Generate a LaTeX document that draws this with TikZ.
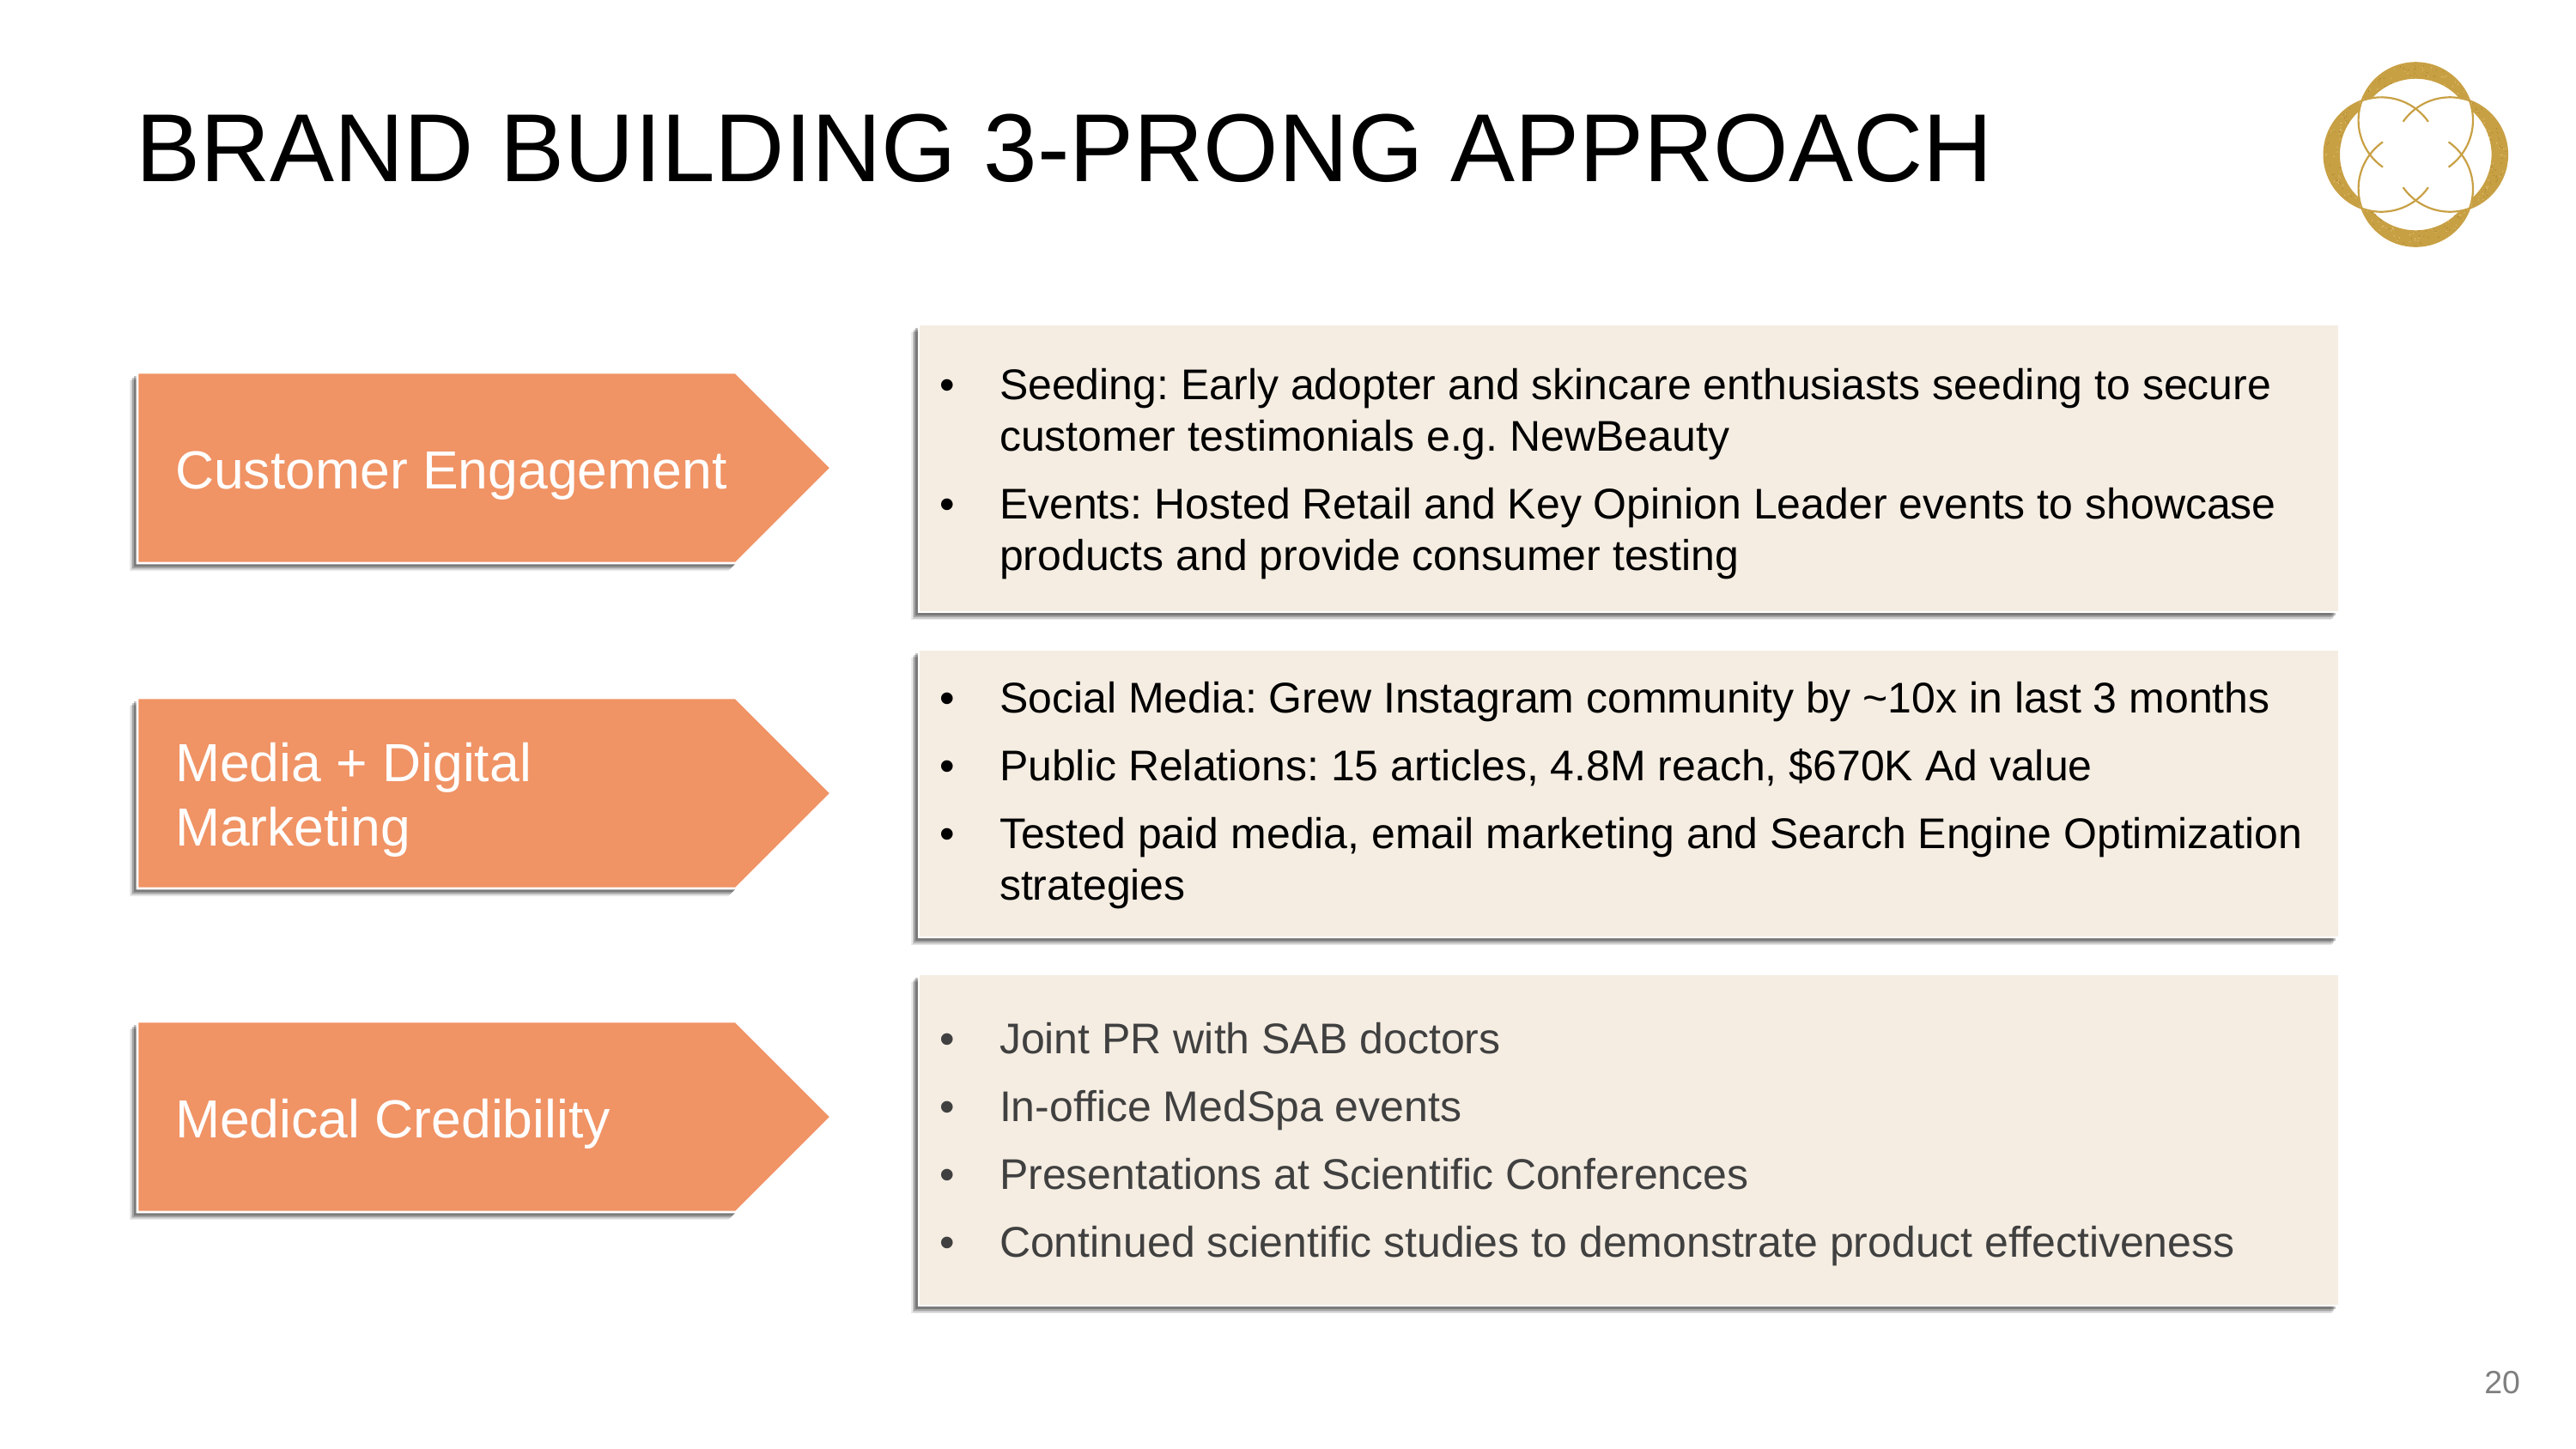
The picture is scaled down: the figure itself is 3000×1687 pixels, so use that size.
\documentclass[tikz,border=0pt]{standalone}
\usepackage{fontspec}
\setmainfont{Liberation Sans}
\frenchspacing
\definecolor{arrowfill}{HTML}{F09365}
\definecolor{panelfill}{HTML}{F5EDE2}
\definecolor{gold}{HTML}{C8A044}
\definecolor{goldlight}{HTML}{E2C67E}
\definecolor{golddark}{HTML}{A9812C}
\definecolor{darktext}{HTML}{404040}
\definecolor{pagegray}{HTML}{7F7F7F}
\newcommand{\softshadow}[1]{%
  \fill[black,opacity=.08,shift={(-9,9)}] #1;
  \fill[black,opacity=.12,shift={(-7.5,7.5)}] #1;
  \fill[black,opacity=.20,shift={(-6,6)}] #1;
  \fill[black,opacity=.25,shift={(-4,4)}] #1;
}
\newcommand{\chevshape}[1]{(160,#1) -- (857,#1) -- (968,#1+111) -- (857,#1+222) -- (160,#1+222) -- cycle}
\newcommand{\lobe}[1]{%
  \begin{scope}[rotate=#1]
    \begin{scope}
      \clip (0,40) ++(158:66.7) arc[start angle=158,end angle=22,radius=66.7]
         -- (51.4,65) arc[start angle=41.2,end angle=138.8,radius=68.3] -- cycle;
      \fill[gold] (-70,50) rectangle (70,110);
      \foreach \n in {1,...,110}{
        \pgfmathsetmacro{\sx}{rand*66}
        \pgfmathsetmacro{\sy}{80+rand*30}
        \fill[goldlight] (\sx,\sy) circle[radius=.7];
        \pgfmathsetmacro{\sx}{rand*66}
        \pgfmathsetmacro{\sy}{80+rand*30}
        \fill[golddark] (\sx,\sy) circle[radius=.7];
      }
    \end{scope}
    \draw[gold,line width=.7pt] (0,40) ++(235:66.7) arc[start angle=235,end angle=-55,radius=66.7];
  \end{scope}}
\tikzset{
  every node/.style={inner sep=0pt,outer sep=0pt},
  titletext/.style={anchor=base west,font=\fontsize{36}{43}\selectfont,text=black},
  chevtext/.style={anchor=base west,font=\fontsize{20}{24}\selectfont,text=white},
  bullettext/.style={anchor=base west,font=\fontsize{16}{19.2}\selectfont,text=black},
  bulletmark/.style={anchor=base west,font=\fontsize{16}{19.2}\selectfont,text=black},
  graytext/.style={text=darktext},
  pagenum/.style={anchor=base east,font=\fontsize{12}{14}\selectfont,text=pagegray},
}
\newcommand{\bul}[4][]{%
  \node[bulletmark,#1] at (1094,#2) {•};
  \node[bullettext,#1] (#3) at (1164,#2) {\parbox[t]{520pt}{\fontsize{16}{19.2}\selectfont\raggedright #4}};}
\begin{document}
\begin{tikzpicture}[x=.32pt,y=-.32pt]
\path[use as bounding box,fill=white] (0,0) rectangle (3000,1687);
\pgfmathsetseed{20}

\node[titletext] (title) at (158,211) {BRAND BUILDING 3-PRONG APPROACH};

% arrows
\foreach \t in {434,813,1190}{
  \softshadow{\chevshape{\t}}
  \fill[arrowfill,draw=white,line width=.9pt] \chevshape{\t};
}
\node[chevtext] (c1) at (204,569) {Customer Engagement};
\node[chevtext] (c2a) at (204,910) {Media + Digital};
\node[chevtext] (c2b) at (204,985) {Marketing};
\node[chevtext] (c3) at (204,1325) {Medical Credibility};

% panels
\foreach \t/\b in {378/713,757/1092,1135/1521}{
  \softshadow{(1070,\t) rectangle (2724,\b)}
  \fill[panelfill,draw=white,line width=.8pt] (1070,\t) rectangle (2724,\b);
}

\bul{465}{p1}{Seeding: Early adopter and skincare enthusiasts seeding to secure\\customer testimonials e.g. NewBeauty}
\bul{604}{p2}{Events: Hosted Retail and Key Opinion Leader events to showcase\\products and provide consumer testing}
\bul{830}{p3}{Social Media: Grew Instagram community by \textasciitilde 10x in last 3 months}
\bul{909}{p4}{Public Relations: 15 articles, 4.8M reach, \$670K Ad value}
\bul{988}{p5}{Tested paid media, email marketing and Search Engine Optimization\\strategies}
\bul[graytext]{1227}{p6}{Joint PR with SAB doctors}
\bul[graytext]{1306}{p7}{In-office MedSpa events}
\bul[graytext]{1385}{p8}{Presentations at Scientific Conferences}
\bul[graytext]{1464}{p9}{Continued scientific studies to demonstrate product effectiveness}

\node[pagenum] (page) at (2935,1623) {20};

% logo
\begin{scope}[shift={(2813.3,180)},x=.32pt,y=.32pt]
  \lobe{0}\lobe{90}\lobe{180}\lobe{270}
\end{scope}
\end{tikzpicture}
\end{document}
